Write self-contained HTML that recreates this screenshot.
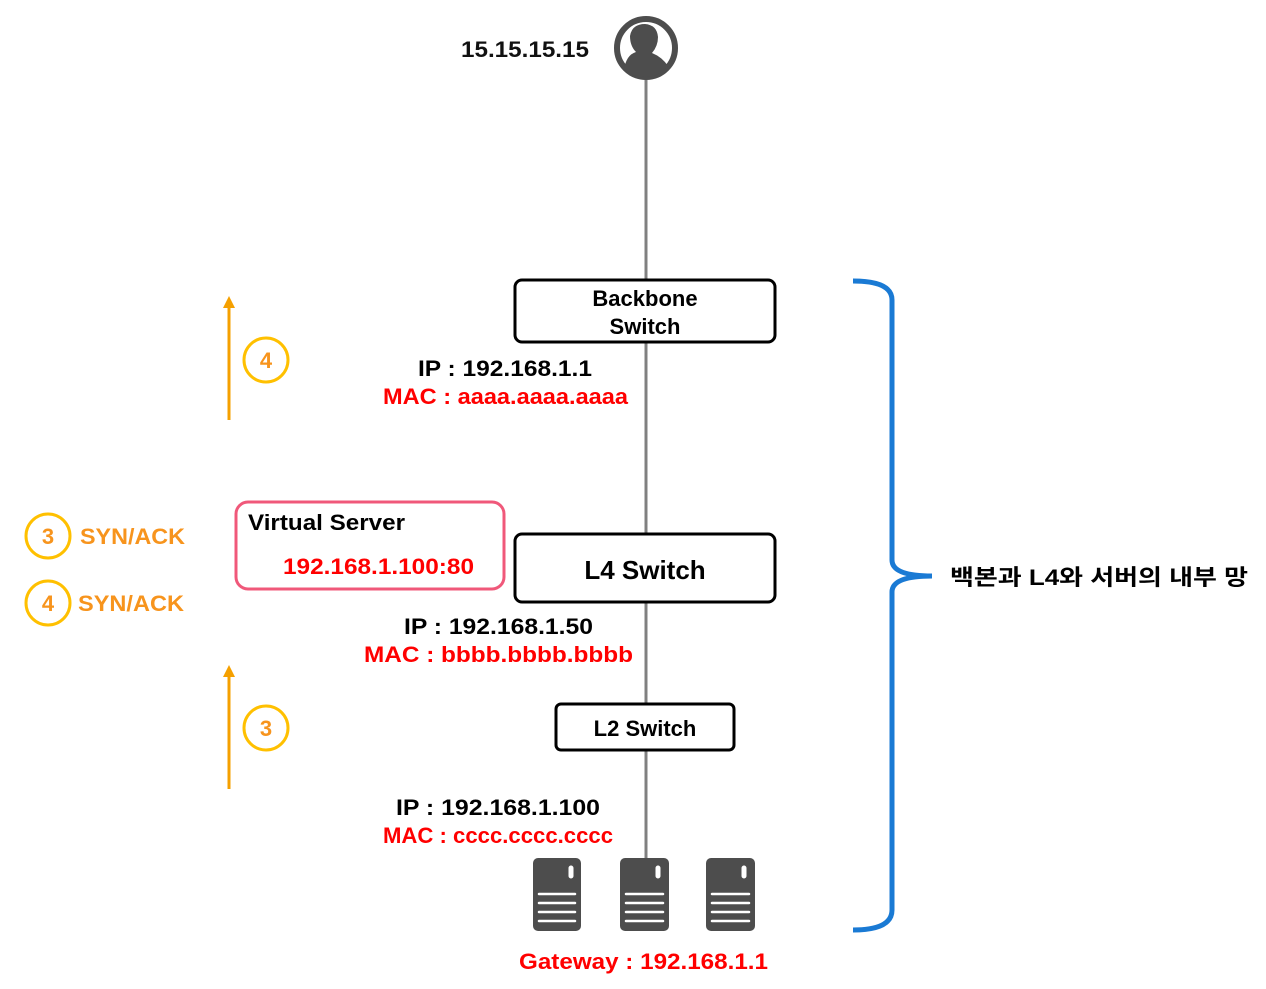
<!DOCTYPE html>
<html><head><meta charset="utf-8"><style>
html,body{margin:0;padding:0;background:#fff;}
svg{display:block;}
text{font-family:"Liberation Sans","Noto Sans CJK KR",sans-serif;font-weight:bold;}
</style></head><body>
<svg width="1266" height="989" viewBox="0 0 1266 989" xmlns="http://www.w3.org/2000/svg">
<line x1="646" y1="78" x2="646" y2="860" stroke="#808080" stroke-width="3"/>
<circle cx="646" cy="48" r="29" fill="#fff" stroke="#4d4d4d" stroke-width="6"/>
<path d="M624 70 Q626 55 636 52 Q630 46 630 36 Q632 24 645 24 Q657 25 658 37 Q658 46 652 53 Q662 57 668 66 Q660 76 646 77 Q632 77 624 70Z" fill="#4d4d4d"/>
<text x="461" y="57" font-size="22" textLength="128" lengthAdjust="spacingAndGlyphs" fill="#111">15.15.15.15</text>
<rect x="515" y="280" width="260" height="62" rx="7" fill="#fff" stroke="#000" stroke-width="3"/>
<text x="645" y="306" font-size="22" text-anchor="middle">Backbone</text>
<text x="645" y="334" font-size="22" text-anchor="middle">Switch</text>
<text x="418" y="376" font-size="22" textLength="174" lengthAdjust="spacingAndGlyphs" fill="#000">IP : 192.168.1.1</text>
<text x="383" y="404" font-size="22" textLength="245" lengthAdjust="spacingAndGlyphs" fill="#f00">MAC : aaaa.aaaa.aaaa</text>
<rect x="515" y="534" width="260" height="68" rx="7" fill="#fff" stroke="#000" stroke-width="3"/>
<text x="645" y="579" font-size="26" text-anchor="middle">L4 Switch</text>
<text x="404" y="634" font-size="22" textLength="189" lengthAdjust="spacingAndGlyphs" fill="#000">IP : 192.168.1.50</text>
<text x="364" y="662" font-size="22" textLength="269" lengthAdjust="spacingAndGlyphs" fill="#f00">MAC : bbbb.bbbb.bbbb</text>
<rect x="236" y="502" width="268" height="87" rx="12" fill="#fff" stroke="#f0587a" stroke-width="3"/>
<text x="248" y="530" font-size="22" textLength="157" lengthAdjust="spacingAndGlyphs">Virtual Server</text>
<text x="283" y="574" font-size="22" textLength="191" lengthAdjust="spacingAndGlyphs" fill="#f00">192.168.1.100:80</text>
<rect x="556" y="704" width="178" height="46" rx="5" fill="#fff" stroke="#000" stroke-width="3"/>
<text x="645" y="736" font-size="22" text-anchor="middle">L2 Switch</text>
<text x="396" y="815" font-size="22" textLength="204" lengthAdjust="spacingAndGlyphs" fill="#000">IP : 192.168.1.100</text>
<text x="383" y="843" font-size="22" textLength="230" lengthAdjust="spacingAndGlyphs" fill="#f00">MAC : cccc.cccc.cccc</text>
<g fill="#4d4d4d">
<rect x="533" y="858" width="48" height="73" rx="5"/>
<rect x="620" y="858" width="49" height="73" rx="5"/>
<rect x="706" y="858" width="49" height="73" rx="5"/>
</g>
<g stroke="#fff" stroke-linecap="round">
<path stroke-width="5" d="M571 868V876M658 868V876M744 868V876"/>
<path stroke-width="2.5" d="M539 894H575M539 903H575M539 912H575M539 921H575"/>
<path stroke-width="2.5" d="M626 894H663M626 903H663M626 912H663M626 921H663"/>
<path stroke-width="2.5" d="M712 894H749M712 903H749M712 912H749M712 921H749"/>
</g>
<text x="519" y="969" font-size="22" textLength="249" lengthAdjust="spacingAndGlyphs" fill="#f00">Gateway : 192.168.1.1</text>
<g stroke="#f5a000" stroke-width="3">
<line x1="229" y1="306" x2="229" y2="420"/>
<line x1="229" y1="676" x2="229" y2="789"/>
</g>
<polygon points="229,296 223,308 235,308" fill="#f5a000"/>
<polygon points="229,665 223,677 235,677" fill="#f5a000"/>
<g fill="none" stroke="#ffc000" stroke-width="3">
<circle cx="266" cy="360" r="22"/><circle cx="266" cy="728" r="22"/>
<circle cx="48" cy="536" r="22"/><circle cx="48" cy="603" r="22"/>
</g>
<g font-size="22" fill="#f7941d">
<text x="266" y="368" text-anchor="middle">4</text>
<text x="266" y="736" text-anchor="middle">3</text>
<text x="48" y="544" text-anchor="middle">3</text>
<text x="48" y="611" text-anchor="middle">4</text>
<text x="80" y="544" textLength="105" lengthAdjust="spacingAndGlyphs">SYN/ACK</text>
<text x="78" y="611" textLength="106" lengthAdjust="spacingAndGlyphs">SYN/ACK</text>
</g>
<path d="M853 281 Q892 281 892 300 L892 560 Q892 576 932 576 Q892 576 892 592 L892 910 Q892 930 853 930" fill="none" stroke="#1a7ad4" stroke-width="5"/>
<text x="950" y="585" font-size="22" textLength="298" lengthAdjust="spacingAndGlyphs" fill="#000">백본과 L4와 서버의 내부 망</text>
</svg>
</body></html>
